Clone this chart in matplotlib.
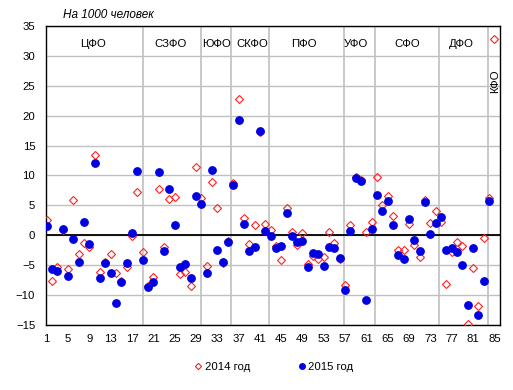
import numpy as np
import matplotlib.pyplot as plt

plt.rcParams['font.family'] = ['Liberation Sans', 'DejaVu Sans']

# region number 1..85
regions = list(range(1, 86))

# migration gain per 1000 people
year_2014 = [2.5, -7.7, -5.3, 0.8, -5.7, 5.9, -3.1, -1.3, -1.9, 13.4,
             -6.1, -4.5, -3.2, -6.3, -7.6, -5.3, -0.2, 7.2, -2.8, -8.5,
             -6.9, 7.8, -1.9, 6.0, 6.4, -6.4, -6.1, -8.4, 11.4, 6.2,
             -5.2, 8.9, 4.6, -4.6, -0.9, 8.8, 22.8, 2.9, -1.4, 1.8,
             17.3, 1.9, 0.8, -1.8, -4.1, 4.5, 0.6, -1.7, 0.4, -4.8,
             -3.5, -3.9, -3.6, 0.5, -1.3, -3.9, -8.3, 1.7, 9.7, 9.2,
             0.6, 2.2, 9.8, 5.0, 6.5, 3.2, -2.4, -2.5, 1.9, -1.7,
             -3.6, 5.9, 2.0, 4.0, 2.2, -8.1, -2.8, -1.1, -1.8, -14.8,
             -5.4, -11.8, -0.4, 6.3, 32.8]

year_2015 = [1.5, -5.7, -5.9, 1.0, -6.8, -0.6, -4.4, 2.3, -1.5, 12.1,
             -7.1, -4.6, -6.3, -11.3, -7.8, -4.6, 0.3, 10.8, -4.1, -8.7,
             -7.8, 10.5, -2.6, 7.7, 1.8, -5.3, -4.8, -7.1, 6.5, 5.2,
             -6.3, 11.0, -2.5, -4.4, -1.2, 8.4, 19.2, 1.9, -2.6, -1.9,
             17.5, 0.7, -0.2, -2.1, -1.8, 3.7, -0.1, -1.2, -0.9, -5.3,
             -2.9, -3.2, -5.1, -2.0, -2.1, -3.8, -9.2, 0.7, 9.6, 9.0,
             -10.8, 1.0, 6.8, 4.1, 5.8, 1.8, -3.3, -4.0, 2.7, -0.8,
             -2.6, 5.6, 0.2, 2.1, 3.05, -2.4, -2.1, -2.8, -5.0, -11.6,
             -2.1, -13.3, -7.6, 5.8, np.nan]

districts = ['ЦФО', 'СЗФО', 'ЮФО', 'СКФО', 'ПФО', 'УФО', 'СФО', 'ДФО', 'КФО']
boundaries = [19.0, 30.0, 35.6, 42.7, 56.7, 62.6, 74.6, 83.9]
label_x = [9.7, 24.2, 32.9, 39.6, 49.2, 59.0, 68.6, 78.9]

fig = plt.figure(figsize=(5.13, 3.9), dpi=100)
ax = fig.add_axes([0.089, 0.1667, 0.886, 0.7667])

for y in range(-15, 36, 5):
    ax.axhline(y, color='#c0c0c0', lw=1, zorder=1)
for b in boundaries:
    ax.axvline(b, color='#c0c0c0', lw=1.2, zorder=1)
ax.axhline(0, color='black', lw=1.3, zorder=2)

ax.plot(regions, year_2014, linestyle='none', marker='D', markersize=4.2,
        markerfacecolor='none', markeredgecolor='#ff2020', markeredgewidth=0.8,
        label='2014 год', zorder=3)
ax.plot(regions, year_2015, linestyle='none', marker='o', markersize=5.3,
        color='#0000e0', label='2015 год', zorder=4)

for name, x in zip(districts[:-1], label_x):
    ax.text(x, 32, name, ha='center', va='center', fontsize=8.2)
ax.text(85.1, 25.8, districts[-1], ha='center', va='center', fontsize=8.2,
        rotation=90)

ax.set_xlim(0.8, 86.1)
ax.set_ylim(-15, 35)
ax.set_xticks(range(1, 86, 4))
ax.set_yticks(range(-15, 36, 5))
ax.tick_params(axis='both', length=0, labelsize=8.2)
ax.tick_params(axis='x', pad=6.5)
ax.tick_params(axis='y', pad=7.5)
for s in ax.spines.values():
    s.set_color('black')
    s.set_linewidth(1)

fig.text(0.122, 0.962, 'На 1000 человек', fontsize=8.5, style='italic',
         ha='left', va='center')

fig.legend(loc='center', bbox_to_anchor=(0.535, 0.059), ncol=2, frameon=False,
           fontsize=8.2, markerscale=0.75, handlelength=0.5, handletextpad=0.3,
           columnspacing=4.3)

fig.savefig('out.png', dpi=100)
